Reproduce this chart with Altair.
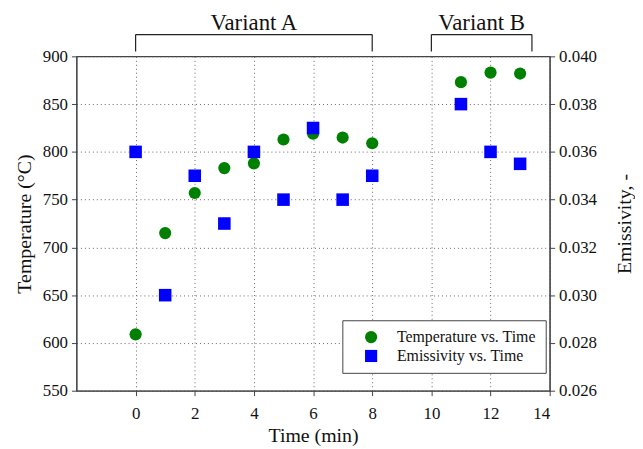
import altair as alt
import pandas as pd

# ---- data ----
time_temp = [0, 1, 2, 3, 4, 5, 6, 7, 8, 11, 12, 13]
temperature = [609, 715, 757, 783, 788, 813, 819, 815, 809, 873, 883, 882]
time_emis = [0, 1, 2, 3, 4, 5, 6, 7, 8, 11, 12, 13]
emissivity = [0.036, 0.030, 0.035, 0.033, 0.036, 0.034, 0.037, 0.034, 0.035, 0.038, 0.036, 0.0355]
series_names = ["Temperature vs. Time", "Emissivity vs. Time"]
variant_labels = ["Variant A", "Variant B"]
variant_start = [0, 10]
variant_end = [8, 13.4]
x_ticks = [0, 2, 4, 6, 8, 10, 12, 14]
temp_ticks = [550, 600, 650, 700, 750, 800, 850, 900]
emis_ticks = [0.026, 0.028, 0.030, 0.032, 0.034, 0.036, 0.038, 0.040]

FONT = "Liberation Serif"
AXIS_COLOR = "#444444"

df_temp = pd.DataFrame({"t": time_temp, "v": temperature, "series": series_names[0]})
df_emis = pd.DataFrame({"t": time_emis, "v": emissivity, "series": series_names[1]})
df_var = pd.DataFrame({"label": variant_labels, "start": variant_start, "end": variant_end})

color_scale = alt.Scale(domain=series_names, range=["#008000", "#0000ff"])
shape_scale = alt.Scale(domain=series_names, range=["circle", "square"])

x_axis = alt.Axis(values=x_ticks, title="Time (min)", grid=True, gridDash=[1, 3],
                  gridColor="#555555", gridOpacity=0.9, tickSize=5, labelPadding=10,
                  titlePadding=4, domainColor=AXIS_COLOR, tickColor=AXIS_COLOR)
x_scale = alt.Scale(domain=[-2, 14], nice=False, zero=False)
x_enc = alt.X("t:Q", scale=x_scale, axis=x_axis)

color_enc = alt.Color("series:N", scale=color_scale, title=None)
shape_enc = alt.Shape("series:N", scale=shape_scale, title=None)

temp_layer = alt.Chart(df_temp).mark_point(filled=True, size=150, opacity=1).encode(
    x=x_enc,
    y=alt.Y("v:Q", scale=alt.Scale(domain=[550, 900], nice=False, zero=False),
            axis=alt.Axis(orient="left", values=temp_ticks, title="Temperature (°C)",
                          grid=True, gridDash=[1, 3], gridColor="#555555", gridOpacity=0.9,
                          tickSize=5, labelPadding=4, titlePadding=8,
                          domainColor=AXIS_COLOR, tickColor=AXIS_COLOR)),
    color=color_enc,
    shape=shape_enc,
)

emis_layer = alt.Chart(df_emis).mark_point(filled=True, size=160, opacity=1).encode(
    x=x_enc,
    y=alt.Y("v:Q", scale=alt.Scale(domain=[0.026, 0.040], nice=False, zero=False),
            axis=alt.Axis(orient="right", values=emis_ticks, format=".3f",
                          title="Emissivity, -", titleAngle=270, grid=False,
                          tickSize=5, labelPadding=4, titlePadding=38,
                          domainColor=AXIS_COLOR, tickColor=AXIS_COLOR)),
    color=color_enc,
    shape=shape_enc,
)

bracket_h = alt.Chart(df_var).transform_calculate(t="datum.start").mark_rule(
    color="#222222", strokeWidth=1.2).encode(
    x=x_enc, x2="end:Q", y=alt.value(-22))

bracket_v = alt.Chart(df_var).transform_fold(["start", "end"], as_=["k", "t"]).mark_rule(
    color="#222222", strokeWidth=1.2).encode(
    x=x_enc, y=alt.value(-22), y2=alt.value(-5))

bracket_txt = alt.Chart(df_var).transform_calculate(
    t="(datum.start + datum.end) / 2").mark_text(
    font=FONT, fontSize=23, baseline="alphabetic", color="#111111").encode(
    x=x_enc, y=alt.value(-27), text="label:N")

chart = alt.layer(temp_layer, emis_layer, bracket_h, bracket_v, bracket_txt).resolve_scale(
    y="independent"
).properties(
    width=477, height=337,
    autosize=alt.AutoSizeParams(type="none"),
    padding={"left": 69, "top": 47, "right": 86, "bottom": 54},
).configure_view(
    stroke=AXIS_COLOR, strokeWidth=1.2
).configure_axis(
    labelFont=FONT, titleFont=FONT, labelFontSize=17, titleFontSize=20,
    labelColor="#111111", titleColor="#111111", titleFontWeight="normal",
).configure_legend(
    orient="none", legendX=268, legendY=266, labelFont=FONT, labelFontSize=16,
    labelColor="#111111", strokeColor=AXIS_COLOR, fillColor="white", padding=9,
    symbolSize=150, symbolOffset=12, labelOffset=18, rowPadding=3, cornerRadius=0,
    symbolStrokeWidth=0,
)

chart.save("out.html", embed_options={"renderer": "svg", "actions": False})
